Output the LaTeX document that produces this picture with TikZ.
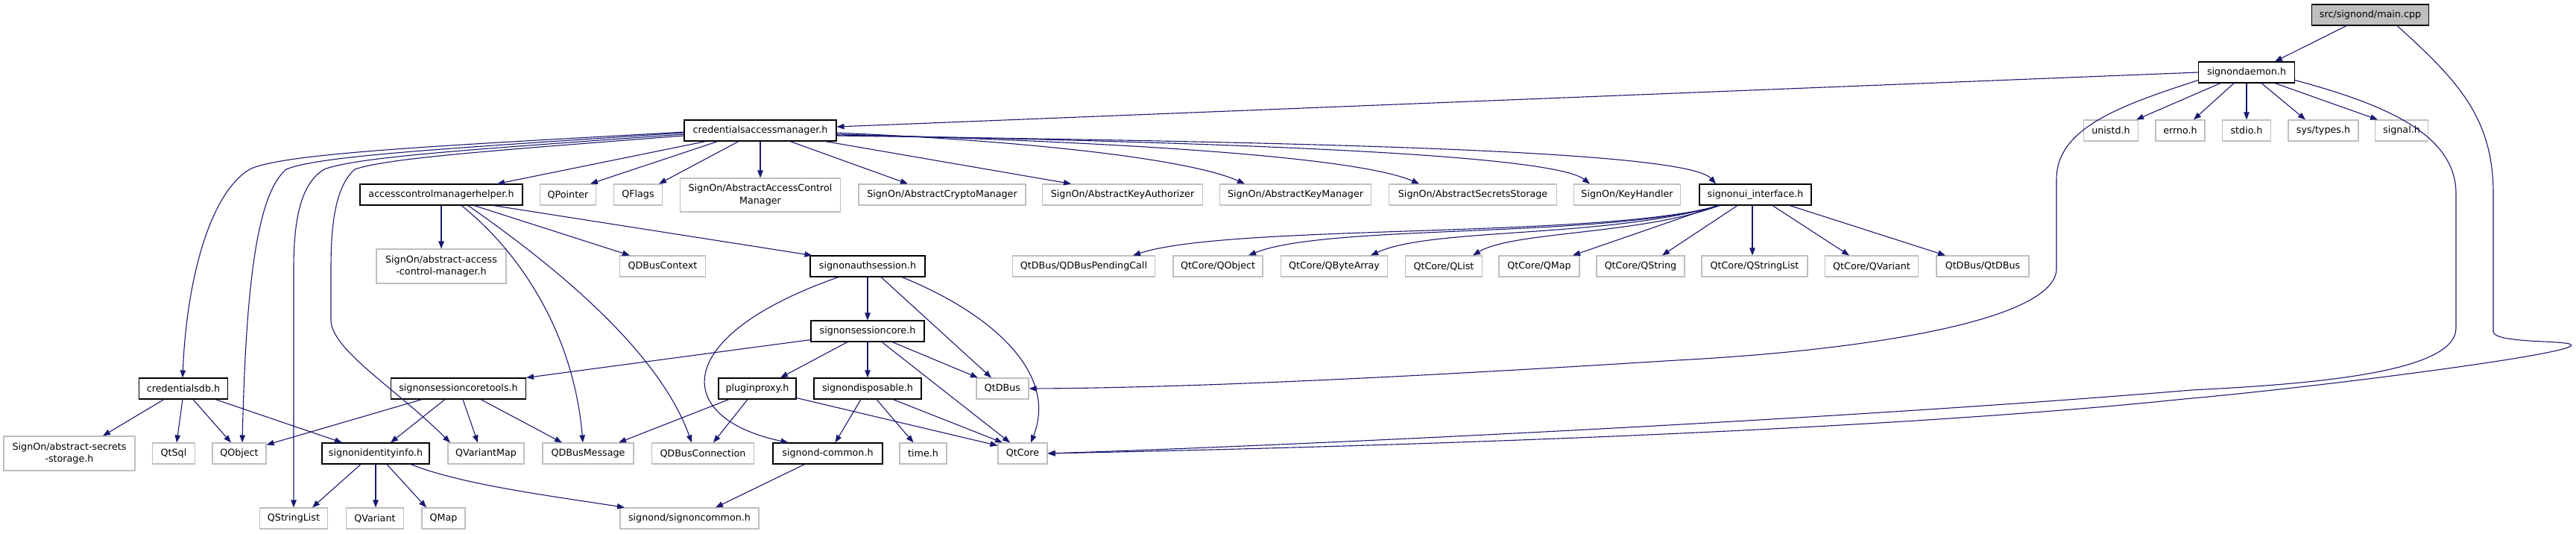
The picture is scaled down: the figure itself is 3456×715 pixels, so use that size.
\documentclass[tikz,border=0pt]{standalone}
\usepackage{fontspec}
\newfontfamily\dvs{DejaVu Sans}
\usetikzlibrary{arrows.meta}
\definecolor{edgeblue}{HTML}{191970}
\definecolor{boxgray}{HTML}{BFBFBF}
\tikzset{
  nb/.style={draw=black, line width=1.1pt, fill=white, minimum height=28pt, inner sep=0pt, align=center,
    font=\dvs\fontsize{12.7}{16.5}\selectfont},
  ng/.style={nb, draw=boxgray},
  conn/.style={draw=edgeblue, line width=1.1pt, -{Triangle[length=10pt,width=7.5pt]}}
}
\begin{document}
\begin{tikzpicture}[x=1pt,y=-1pt]
\path[use as bounding box, fill=white] (0,0) rectangle (3456,715);
% nodes
\node[nb, fill=boxgray, minimum width=157pt] (main) at (3180,20) {src/signond/main.cpp};
\node[nb, minimum width=129pt] (daemon) at (3014,97) {signondaemon.h};
\node[ng, minimum width=73pt] (unistd) at (2832,175) {unistd.h};
\node[ng, minimum width=66pt] (errno) at (2925,175) {errno.h};
\node[ng, minimum width=65pt] (stdio) at (3014,175) {stdio.h};
\node[ng, minimum width=94pt] (systypes) at (3117,175) {sys/types.h};
\node[ng, minimum width=71pt] (signal) at (3222,175) {signal.h};
\node[nb, minimum width=204pt] (cam) at (1020,175) {credentialsaccessmanager.h};
\node[nb, minimum width=218pt] (acmh) at (592,261) {accesscontrolmanagerhelper.h};
\node[ng, minimum width=75pt] (qpointer) at (762,261) {QPointer};
\node[ng, minimum width=65pt] (qflags) at (856,261) {QFlags};
\node[ng, minimum width=215pt, minimum height=45pt] (aacm) at (1020,261.5) {SignOn/AbstractAccessControl\\Manager};
\node[ng, minimum width=224pt] (acrypto) at (1264,261) {SignOn/AbstractCryptoManager};
\node[ng, minimum width=215pt] (akeyauth) at (1506,261) {SignOn/AbstractKeyAuthorizer};
\node[ng, minimum width=203pt] (akeyman) at (1738,261) {SignOn/AbstractKeyManager};
\node[ng, minimum width=225pt] (asecrets) at (1976,261) {SignOn/AbstractSecretsStorage};
\node[ng, minimum width=143pt] (keyhandler) at (2183,261) {SignOn/KeyHandler};
\node[nb, minimum width=150pt] (signonui) at (2355,261) {signonui\_interface.h};
\node[ng, minimum width=174pt, minimum height=46pt] (aacmh) at (592,357) {SignOn/abstract-access\\-control-manager.h};
\node[ng, minimum width=115pt] (qdbuscontext) at (889,357) {QDBusContext};
\node[nb, minimum width=154pt] (authsession) at (1164,357) {signonauthsession.h};
\node[ng, minimum width=191pt] (pendingcall) at (1454,357) {QtDBus/QDBusPendingCall};
\node[ng, minimum width=120pt] (qcobject) at (1634,357) {QtCore/QObject};
\node[ng, minimum width=143pt] (qbytearray) at (1790,357) {QtCore/QByteArray};
\node[ng, minimum width=103pt] (qlist) at (1937,357) {QtCore/QList};
\node[ng, minimum width=108pt] (qmap) at (2065,357) {QtCore/QMap};
\node[ng, minimum width=118pt] (qstring) at (2201,357) {QtCore/QString};
\node[ng, minimum width=142pt] (qstringlist) at (2354,357) {QtCore/QStringList};
\node[ng, minimum width=125pt] (qvariant) at (2511,357) {QtCore/QVariant};
\node[ng, minimum width=124pt] (qtdbustwo) at (2660,357) {QtDBus/QtDBus};
\node[nb, minimum width=152pt] (sessioncore) at (1164,444) {signonsessioncore.h};
\node[nb, minimum width=119pt] (credentialsdb) at (246,521) {credentialsdb.h};
\node[nb, minimum width=181pt] (coretools) at (615,521) {signonsessioncoretools.h};
\node[nb, minimum width=104pt] (pluginproxy) at (1016,521) {pluginproxy.h};
\node[nb, minimum width=144pt] (disposable) at (1164,521) {signondisposable.h};
\node[ng, minimum width=70pt] (qtdbus) at (1345,521) {QtDBus};
\node[ng, minimum width=176pt, minimum height=46pt] (asecstore) at (93,608) {SignOn/abstract-secrets\\-storage.h};
\node[ng, minimum width=57pt] (qtsql) at (233,608) {QtSql};
\node[ng, minimum width=72pt] (qobject) at (321,608) {QObject};
\node[nb, minimum width=144pt] (identityinfo) at (504,608) {signonidentityinfo.h};
\node[ng, minimum width=102pt] (qvariantmap) at (652,608) {QVariantMap};
\node[ng, minimum width=122pt] (qdbusmessage) at (789,608) {QDBusMessage};
\node[ng, minimum width=137pt] (qdbusconnection) at (943,608) {QDBusConnection};
\node[nb, minimum width=147pt] (sdcommon) at (1110.5,608) {signond-common.h};
\node[ng, minimum width=63pt] (timeh) at (1238.5,608) {time.h};
\node[ng, minimum width=66pt] (qtcore) at (1372,608) {QtCore};
\node[ng, minimum width=91pt] (qstringlisttwo) at (394,695) {QStringList};
\node[ng, minimum width=77pt] (qvarianttwo) at (503,695) {QVariant};
\node[ng, minimum width=58pt] (qmaptwo) at (595,695) {QMap};
\node[ng, minimum width=186pt] (signoncommon) at (925,695) {signond/signoncommon.h};
% edges: main
\draw[conn] ([xshift=-32pt]main.south) -- ([xshift=38pt]daemon.north);
\draw[conn] ([xshift=36pt]main.south) .. controls (3300,110) and (3345,160) .. (3345,260) -- (3345,445)
  .. controls (3348,462) and (3460,455) .. (3449,464) .. controls (3430,478) and (3100,520) .. (2930,535)
  .. controls (2500,580) and (1800,600) .. (qtcore.east);
% daemon
\draw[conn] ([yshift=4pt]daemon.south east) .. controls (3200,140) and (3295,180) .. (3295,260) -- (3295,440)
  .. controls (3295,500) and (3100,515) .. (2940,523) .. controls (2500,560) and (1800,595) .. (qtcore.east);
\draw[conn] ([yshift=4pt]daemon.south west) .. controls (2850,140) and (2759,170) .. (2759,240) -- (2759,360)
  .. controls (2759,430) and (2500,470) .. (2250,483) .. controls (1900,505) and (1600,520) .. (qtdbus.east);
\draw[conn] (daemon.west) -- ([yshift=5pt]cam.east);
\draw[conn] ([xshift=-35pt]daemon.south) -- ([xshift=34pt]unistd.north);
\draw[conn] ([xshift=-17pt]daemon.south) -- ([xshift=18pt]errno.north);
\draw[conn] (daemon.south) -- (stdio.north);
\draw[conn] ([xshift=20pt]daemon.south) -- ([xshift=-24pt]systypes.north);
\draw[conn] ([xshift=38pt]daemon.south) -- ([xshift=-32pt]signal.north);
% cam
\draw[conn] ([xshift=-73pt]cam.south) -- ([xshift=75pt]acmh.north);
\draw[conn] ([xshift=-57pt]cam.south) -- ([xshift=30pt]qpointer.north);
\draw[conn] ([xshift=-29pt]cam.south) -- ([xshift=28pt]qflags.north);
\draw[conn] (cam.south) -- (aacm.north);
\draw[conn] ([xshift=40pt]cam.south) -- ([xshift=-46pt]acrypto.north);
\draw[conn] ([xshift=87pt]cam.south) -- ([xshift=-69pt]akeyauth.north);
\draw[conn] ([yshift=-3pt]cam.east) .. controls (1400,190) and (1600,215) .. ([xshift=-68pt]akeyman.north);
\draw[conn] ([yshift=-5pt]cam.east) .. controls (1500,190) and (1820,210) .. ([xshift=-72pt]asecrets.north);
\draw[conn] ([yshift=-6pt]cam.east) .. controls (1600,190) and (2080,205) .. ([xshift=-50pt]keyhandler.north);
\draw[conn] ([yshift=-7pt]cam.east) .. controls (1700,190) and (2260,200) .. ([xshift=-53pt]signonui.north);
\draw[conn] ([yshift=-2pt]cam.west) .. controls (600,195) and (380,205) .. (335,227)
  .. controls (280,260) and (250,380) .. ([xshift=-1pt]credentialsdb.north);
\draw[conn] ([yshift=-3pt]cam.west) .. controls (620,198) and (430,208) .. (384,227)
  .. controls (345,260) and (330,380) .. ([xshift=4pt]qobject.north);
\draw[conn] ([yshift=-5pt]cam.west) .. controls (640,200) and (480,210) .. (435,227)
  .. controls (405,245) and (394,290) .. (394,360) -- (qstringlisttwo.north);
\draw[conn] ([yshift=-7pt]cam.west) .. controls (660,202) and (520,212) .. (476,227)
  .. controls (450,250) and (444,300) .. (444,360) -- (444,430)
  .. controls (446,470) and (530,520) .. ([xshift=-48pt]qvariantmap.north);
% acmh
\draw[conn] (acmh.south) -- (aacmh.north);
\draw[conn] ([xshift=27pt]acmh.south) .. controls (700,340) and (770,450) .. ([xshift=-7pt]qdbusmessage.north);
\draw[conn] ([xshift=36pt]acmh.south) .. controls (720,340) and (880,460) .. ([xshift=-15pt]qdbusconnection.north);
\draw[conn] ([xshift=44pt]acmh.south) -- ([xshift=-44pt]qdbuscontext.north);
\draw[conn] ([xshift=70pt]acmh.south) -- ([xshift=3pt]authsession.north west);
% authsession
\draw[conn] (authsession.south) -- (sessioncore.north);
\draw[conn] ([xshift=-39pt]authsession.south) .. controls (900,450) and (900,560) .. ([xshift=-53pt]sdcommon.north);
\draw[conn] ([xshift=18pt]authsession.south) -- ([xshift=-15pt]qtdbus.north);
\draw[conn] ([xshift=46pt]authsession.south) .. controls (1330,420) and (1420,500) .. ([xshift=11pt]qtcore.north);
% sessioncore
\draw[conn] ([yshift=3pt]sessioncore.south west) -- (coretools.north east);
\draw[conn] ([xshift=-27pt]sessioncore.south) -- ([xshift=31pt]pluginproxy.north);
\draw[conn] (sessioncore.south) -- (disposable.north);
\draw[conn] ([xshift=33pt]sessioncore.south) -- ([xshift=-33pt]qtdbus.north);
\draw[conn] ([xshift=19pt]sessioncore.south) -- ([xshift=-17pt]qtcore.north);
% disposable
\draw[conn] ([xshift=-9pt]disposable.south) -- ([xshift=10pt]sdcommon.north);
\draw[conn] ([xshift=12pt]disposable.south) -- ([xshift=-13pt]timeh.north);
\draw[conn] ([xshift=34pt]disposable.south) -- ([xshift=-27pt]qtcore.north);
% pluginproxy
\draw[conn] ([yshift=2pt]pluginproxy.south east) -- ([yshift=-4pt]qtcore.north west);
\draw[conn] ([xshift=-13pt]pluginproxy.south) -- ([xshift=14pt]qdbusconnection.north);
\draw[conn] ([xshift=-38pt]pluginproxy.south) -- ([xshift=41pt]qdbusmessage.north);
% coretools
\draw[conn] ([xshift=-49pt]coretools.south) -- ([yshift=-3pt]qobject.north east);
\draw[conn] ([xshift=-18pt]coretools.south) -- ([xshift=20pt]identityinfo.north);
\draw[conn] ([xshift=6pt]coretools.south) -- ([xshift=-11pt]qvariantmap.north);
\draw[conn] ([xshift=30pt]coretools.south) -- ([xshift=-35pt]qdbusmessage.north);
% credentialsdb
\draw[conn] ([xshift=-26pt]credentialsdb.south) -- ([xshift=45pt]asecstore.north);
\draw[conn] ([xshift=-1pt]credentialsdb.south) -- ([xshift=4pt]qtsql.north);
\draw[conn] ([xshift=13pt]credentialsdb.south) -- ([xshift=-11pt]qobject.north);
\draw[conn] ([xshift=43pt]credentialsdb.south) -- ([xshift=-45pt]identityinfo.north);
% identityinfo
\draw[conn] ([xshift=-20pt]identityinfo.south) -- ([xshift=25pt]qstringlisttwo.north);
\draw[conn] (identityinfo.south) -- ([xshift=1pt]qvarianttwo.north);
\draw[conn] ([xshift=15pt]identityinfo.south) -- ([xshift=-23pt]qmaptwo.north);
\draw[conn] ([xshift=47pt]identityinfo.south) .. controls (620,650) and (740,665) .. ([xshift=-87pt]signoncommon.north);
\draw[conn] ([xshift=-31pt]sdcommon.south) -- ([xshift=35pt]signoncommon.north);
% signonui
\draw[conn] ([xshift=-48pt]signonui.south) .. controls (2150,320) and (1650,300) .. ([xshift=66pt]pendingcall.north);
\draw[conn] ([xshift=-48pt]signonui.south) .. controls (2150,320) and (1780,300) .. ([xshift=41pt]qcobject.north);
\draw[conn] ([xshift=-48pt]signonui.south) .. controls (2150,320) and (1920,305) .. ([xshift=49pt]qbytearray.north);
\draw[conn] ([xshift=-48pt]signonui.south) .. controls (2200,315) and (2030,310) .. ([xshift=39pt]qlist.north);
\draw[conn] ([xshift=-51pt]signonui.south) -- ([xshift=45pt]qmap.north);
\draw[conn] ([xshift=-24pt]signonui.south) -- ([xshift=29pt]qstring.north);
\draw[conn] ([xshift=-4pt]signonui.south) -- ([xshift=-3pt]qstringlist.north);
\draw[conn] ([xshift=23pt]signonui.south) -- ([xshift=-30pt]qvariant.north);
\draw[conn] ([xshift=46pt]signonui.south) -- ([xshift=-50pt]qtdbustwo.north);
\end{tikzpicture}
\end{document}
